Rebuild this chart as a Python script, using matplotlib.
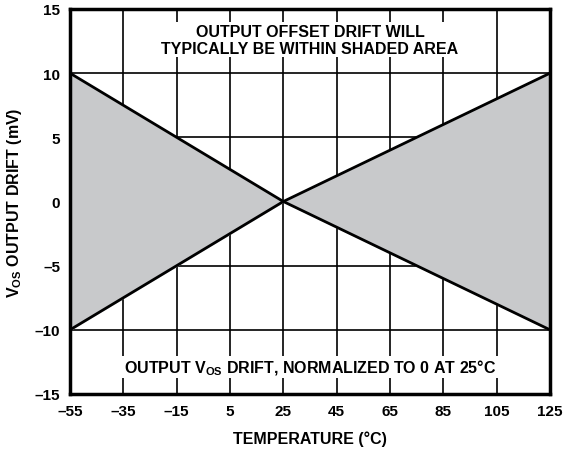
import matplotlib.pyplot as plt

plt.rcParams['font.family'] = ['Liberation Sans', 'DejaVu Sans']
plt.rcParams['font.weight'] = 'bold'
plt.rcParams['axes.labelweight'] = 'bold'
plt.rcParams['mathtext.fontset'] = 'custom'
plt.rcParams['mathtext.bf'] = 'Liberation Sans:bold'
plt.rcParams['mathtext.rm'] = 'Liberation Sans:bold'

# drift limits (mV) vs temperature, normalized to 0 at 25 C
temp = [-55, 25, 125]
upper = [10, 0, 10]
lower = [-10, 0, -10]
xticks = [-55, -35, -15, 5, 25, 45, 65, 85, 105, 125]
yticks = [-15, -10, -5, 0, 5, 10, 15]

fig = plt.figure(figsize=(5.66, 4.52), dpi=100)
ax = fig.add_axes([70 / 566, 57 / 452, 480 / 566, 385 / 452])

ax.set_xlim(-55, 125)
ax.set_ylim(-15, 15)
ax.set_xticks(xticks)
ax.set_yticks(yticks)
ax.set_xticklabels([str(t).replace('-', '\u2013') for t in xticks], fontweight='bold')
ax.set_yticklabels([str(t).replace('-', '\u2013') for t in yticks], fontweight='bold')
ax.tick_params(length=0, labelsize=11, pad=7)
ax.grid(True, color='black', linewidth=1.2)
ax.set_axisbelow(True)

# shaded bowtie
ax.fill_between(temp, lower, upper, color='#c8c9cb', zorder=2)
ax.plot(temp, [upper[0], upper[1], lower[2]], color='black', lw=2, zorder=3)
ax.plot(temp, [lower[0], lower[1], upper[2]], color='black', lw=2, zorder=3)

for s in ax.spines.values():
    s.set_linewidth(2.5)
    s.set_zorder(5)

box = dict(facecolor='white', edgecolor='none', pad=1)
ax.text(35, 12.6, 'OUTPUT OFFSET DRIFT WILL\nTYPICALLY BE WITHIN SHADED AREA',
        ha='center', va='center', fontsize=11.5, fontweight='bold',
        linespacing=1.2, bbox=box, zorder=4)
ax.text(35, -12.9, 'OUTPUT V$_{\\mathbf{OS}}$ DRIFT, NORMALIZED TO 0 AT 25°C',
        ha='center', va='center', fontsize=11.5, fontweight='bold', bbox=box, zorder=4)

ax.set_xlabel('TEMPERATURE (°C)', fontsize=11.5, fontweight='bold', labelpad=9)
ax.set_ylabel('V$_{\\mathbf{OS}}$ OUTPUT DRIFT (mV)', fontsize=11.5, fontweight='bold',
              labelpad=8)

fig.savefig('out.png', dpi=100)
